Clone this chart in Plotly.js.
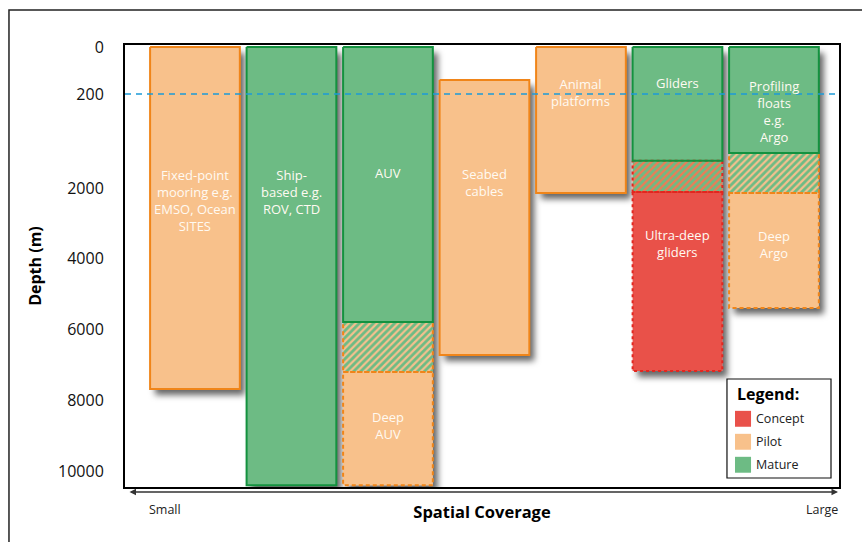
<!DOCTYPE html>
<html>
<head>
<meta charset="utf-8">
<script src="https://cdn.plot.ly/plotly-3.0.1.min.js"></script>
<style>
  body { margin: 0; background: #fff; }
  #chart { width: 862px; height: 542px; }
  /* soft drop shadow under the columns, like the original figure */
  #chart .barlayer { filter: url(#colShadow); }
</style>
</head>
<body>
<svg width="0" height="0" style="position:absolute">
  <defs>
    <filter id="colShadow" x="-20%" y="-20%" width="150%" height="150%">
      <feDropShadow dx="5" dy="6" stdDeviation="3" flood-color="#000" flood-opacity="0.6"/>
    </filter>
  </defs>
</svg>
<div id="chart"></div>
<script>
// platforms along the spatial-coverage axis (left = small, right = large)
const platforms = ['Fixed-point mooring', 'Ship-based', 'AUV', 'Seabed cables',
                   'Animal platforms', 'Gliders', 'Profiling floats'];

// each column is split in segments by readiness stage (depths in m)
const segColumn = [0, 1, 2, 2, 2, 3, 4, 5, 5, 5, 6, 6, 6];
const segTop    = [0, 0, 0, 5790, 7200, 140, 0, 0, 1480, 2110, 0, 1330, 2140];
const segBottom = [7680, 10400, 5790, 7200, 10400, 6720, 2140, 1480, 2110, 7170, 1330, 2140, 5390];
const segStage  = ['Pilot', 'Mature', 'Mature', 'Transition', 'Pilot', 'Pilot', 'Pilot',
                   'Mature', 'Transition', 'Concept', 'Mature', 'Transition', 'Pilot'];
const segEdge   = ['solid', 'solid', 'solid', 'dash', 'dash', 'solid', 'solid',
                   'solid', 'dot', 'dot', 'solid', 'dash', 'dash'];

const depthTicks = [0, 200, 2000, 4000, 6000, 8000, 10000];
const depthTickText = ['0', '200', '2000', '4000', '6000', '8000', '10000'];
const legendStages = ['Concept', 'Pilot', 'Mature'];

// text written inside the columns
const labelText = ['Fixed-point<br>mooring e.g.<br>EMSO, Ocean<br>SITES', 'Ship-<br>based e.g.<br>ROV, CTD',
                   'AUV', 'Deep<br>AUV', 'Seabed<br>cables', 'Animal<br>platforms', 'Gliders',
                   'Ultra-deep<br>gliders', 'Profiling<br>floats<br>e.g.<br>Argo', 'Deep<br>Argo'];
const labelColumn = [0, 1, 2, 2, 3, 4, 5, 5, 6, 6];
const labelPos = [153, 145, 126, 378, 135, 45, 36, 196, 64, 197];   // in axis units

const fill = { Concept: '#e9514a', Pilot: '#f8c18b', Mature: '#6dbb84' };
const edge = { Concept: '#e3261f', Pilot: '#f08519', Mature: '#14923f' };

// the depth axis of the figure is stretched near the surface:
// 0-200 m and 200-2000 m get their own bands, then it is linear to the bottom
function depthToAxis(d) {
    if (d <= 200) return d * 47 / 200;
    if (d <= 2000) return 47 + (d - 200) * 94 / 1800;
    return 141 + (d - 2000) * 283 / 8000;
}

const barWidth = 0.93;
const traces = [];

['Mature', 'Pilot', 'Concept', 'Transition'].forEach(stage => {
    const idx = segStage.map((s, i) => s === stage ? i : -1).filter(i => i >= 0);
    const t = {
        type: 'bar',
        name: stage,
        x: idx.map(i => segColumn[i]),
        base: idx.map(i => depthToAxis(segTop[i])),
        y: idx.map(i => depthToAxis(segBottom[i]) - depthToAxis(segTop[i])),
        width: barWidth,
        marker: { color: fill[stage] || fill.Mature, line: { width: 0 } },
        hoverinfo: 'skip',
        showlegend: false
    };
    if (stage === 'Transition') {
        t.marker.color = fill.Mature;
        t.marker.pattern = {
            shape: '/',
            bgcolor: fill.Mature,
            fgcolor: idx.map(i => segEdge[i] === 'dot' ? '#ef7a55' : '#f5c08e'),
            size: 5,
            solidity: 0.45
        };
    }
    traces.push(t);
});

// outlines (dashed for pilot extensions, dotted for concept)
const order = segStage.map((s, i) => i).sort((a, b) => {
    const rank = { Pilot: 0, Concept: 0, Transition: 1, Mature: 2 };
    return rank[segStage[a]] - rank[segStage[b]];
});
order.forEach(i => {
    const x0 = segColumn[i] - barWidth / 2, x1 = segColumn[i] + barWidth / 2;
    const y0 = depthToAxis(segTop[i]), y1 = depthToAxis(segBottom[i]);
    let color = edge[segStage[i]];
    if (segStage[i] === 'Transition') color = segEdge[i] === 'dot' ? edge.Concept : edge.Pilot;
    const dash = segEdge[i] === 'dash' ? '4px,3px' : segEdge[i] === 'dot' ? '3px,3px' : 'solid';
    traces.push({
        type: 'scatter',
        mode: 'lines',
        x: [x0, x1, x1, x0, x0],
        y: [y0, y0, y1, y1, y0],
        line: { color: color, width: 2, dash: dash },
        hoverinfo: 'skip',
        showlegend: false
    });
});

const annotations = labelText.map((txt, i) => ({
    xref: 'x', yref: 'y',
    x: labelColumn[i], y: labelPos[i],
    text: txt, showarrow: false,
    font: { size: 13, color: '#fffaf2' },
    align: 'center', yanchor: 'middle'
}));

// spatial coverage arrow and its end labels
annotations.push({
    xref: 'paper', yref: 'paper', x: 0.9986, y: -0.0113,
    axref: 'pixel', ayref: 'pixel', ax: -710, ay: 0,
    showarrow: true, arrowside: 'end+start', arrowhead: 2, startarrowhead: 2,
    arrowsize: 1, startarrowsize: 1, arrowwidth: 1.3, arrowcolor: '#333', text: ''
});
annotations.push({ xref: 'paper', yref: 'paper', x: 0.056, y: -0.05, xanchor: 'center', yanchor: 'middle',
    text: 'Small', showarrow: false, font: { size: 12.5, color: '#222' } });
annotations.push({ xref: 'paper', yref: 'paper', x: 0.9762, y: -0.05, xanchor: 'center', yanchor: 'middle',
    text: 'Large', showarrow: false, font: { size: 12.5, color: '#222' } });

// legend box drawn by hand
const shapes = [];
const lgX0 = 0.8431, lgX1 = 0.9888, lgY0 = 0.0204, lgY1 = 0.2443;
shapes.push({ type: 'rect', xref: 'paper', yref: 'paper', x0: lgX0, x1: lgX1, y0: lgY0, y1: lgY1,
    line: { color: '#111', width: 1.2 }, fillcolor: '#fff', layer: 'above' });
annotations.push({ xref: 'paper', yref: 'paper', x: 0.8543, y: 0.210, xanchor: 'left', yanchor: 'middle',
    text: '<b>Legend:</b>', showarrow: false, font: { size: 16, color: '#000' } });
legendStages.forEach((s, i) => {
    const yc = 0.1543 - i * 0.0520;
    shapes.push({ type: 'rect', xref: 'paper', yref: 'paper', x0: 0.8543, x1: 0.8768,
        y0: yc - 0.018, y1: yc + 0.018, line: { width: 0 }, fillcolor: fill[s], layer: 'above' });
    annotations.push({ xref: 'paper', yref: 'paper', x: 0.8810, y: yc, xanchor: 'left', yanchor: 'middle',
        text: s, showarrow: false, font: { size: 12.5, color: '#222' } });
});

// 200 m reference line
shapes.push({ type: 'line', xref: 'paper', yref: 'y', x0: 0, x1: 1,
    y0: depthToAxis(200), y1: depthToAxis(200),
    line: { color: '#1d9bd7', width: 1.6, dash: '6px,5px' }, layer: 'above' });

// outer frame of the figure
shapes.push({ type: 'rect', xref: 'paper', yref: 'paper', x0: -0.1625, x1: 1.05, y0: -0.16, y1: 1.0792,
    line: { color: '#222', width: 1.5 }, fillcolor: 'rgba(0,0,0,0)', layer: 'below' });

const layout = {
    width: 862, height: 542,
    margin: { l: 125, r: 23, t: 45, b: 55 },
    font: { family: '"Open Sans", sans-serif', color: '#111' },
    paper_bgcolor: '#fff', plot_bgcolor: '#fff',
    barmode: 'overlay',
    showlegend: false,
    xaxis: {
        range: [-0.725, 6.674],
        showticklabels: false, ticks: '', showgrid: false, zeroline: false,
        showline: true, mirror: true, linecolor: '#000', linewidth: 2,
        title: { text: '<b>Spatial Coverage</b>', font: { size: 16.5, color: '#000' }, standoff: 18 }
    },
    yaxis: {
        range: [440, -2],
        tickvals: depthTicks.map(depthToAxis), ticktext: depthTickText,
        tickfont: { size: 16, color: '#111' }, ticks: '', ticklabelstandoff: 16,
        showgrid: false, zeroline: false,
        showline: true, mirror: true, linecolor: '#000', linewidth: 2,
        title: { text: '<b>Depth (m)</b>', font: { size: 16, color: '#000' }, standoff: 12 }
    },
    shapes: shapes,
    annotations: annotations
};

Plotly.newPlot('chart', traces, layout, { displayModeBar: false, staticPlot: true });
</script>
</body>
</html>
